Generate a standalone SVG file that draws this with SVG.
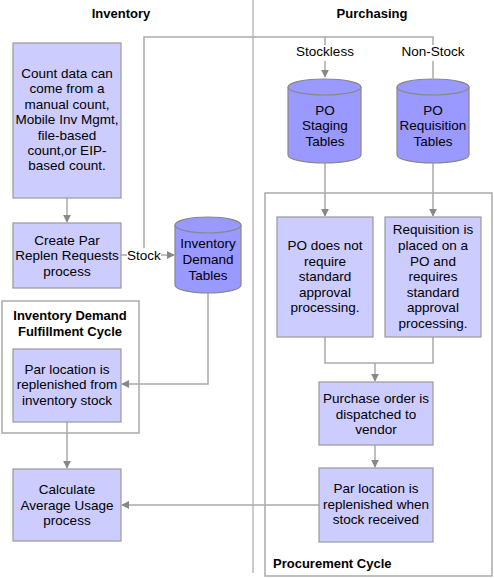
<svg xmlns="http://www.w3.org/2000/svg" width="494" height="578" viewBox="0 0 494 578">
<defs>
<style>
text{font-family:"Liberation Sans",Arial,sans-serif;font-size:13.5px;fill:#000;text-anchor:middle}
.t{font-weight:bold;font-size:13px}
.box{fill:#ccccff;stroke:#999;stroke-width:1.2}
.cyl{fill:#9999ff;stroke:#888;stroke-width:1.2}
.frame{fill:none;stroke:#aaa;stroke-width:1.5}
.c{fill:none;stroke:#aaa;stroke-width:1.5}
</style>
<marker id="a" viewBox="0 0 10 10" refX="9" refY="5" markerWidth="8" markerHeight="8" markerUnits="userSpaceOnUse" orient="auto">
<path d="M0,0 L10,5 L0,10 z" fill="#888"/>
</marker>
</defs>
<rect width="494" height="578" fill="#fff"/>
<g id="titles">
<text class="t" x="121" y="18">Inventory</text>
<text class="t" x="372" y="18">Purchasing</text>
</g>
<line x1="253" y1="0" x2="253" y2="573" stroke="#bbb" stroke-width="1.5"/>
<g id="frames">
<rect class="frame" x="2" y="301" width="137" height="132"/>
<text class="t" x="70" y="320">Inventory Demand</text>
<text class="t" x="70" y="336">Fulfillment Cycle</text>
<rect class="frame" x="265" y="193" width="227" height="383"/>
<text class="t" x="273" y="568" style="text-anchor:start">Procurement Cycle</text>
</g>
<g id="connectors">
<line class="c" x1="67" y1="198" x2="67" y2="222" marker-end="url(#a)"/>
<line class="c" x1="121" y1="255" x2="127" y2="255"/>
<text x="144" y="260">Stock</text>
<line class="c" x1="161" y1="255" x2="174" y2="255" marker-end="url(#a)"/>
<polyline class="c" points="144,248 144,37 433,37 433,45"/>
<line class="c" x1="325" y1="37" x2="325" y2="45"/>
<text x="325" y="56">Stockless</text>
<text x="433" y="56">Non-Stock</text>
<line class="c" x1="325" y1="61" x2="325" y2="77" marker-end="url(#a)"/>
<line class="c" x1="433" y1="61" x2="433" y2="78"/>
<line class="c" x1="325" y1="163" x2="325" y2="216" marker-end="url(#a)"/>
<line class="c" x1="433" y1="163" x2="433" y2="216" marker-end="url(#a)"/>
<polyline class="c" points="325,337 325,363 433,363 433,337"/>
<line class="c" x1="375" y1="363" x2="375" y2="381" marker-end="url(#a)"/>
<line class="c" x1="375" y1="445" x2="375" y2="467" marker-end="url(#a)"/>
<polyline class="c" points="208,293 208,384 122,384" marker-end="url(#a)"/>
<line class="c" x1="67" y1="422" x2="67" y2="468" marker-end="url(#a)"/>
<line class="c" x1="319" y1="505" x2="122" y2="505" marker-end="url(#a)"/>
</g>
<g id="count">
<rect class="box" x="13" y="43" width="108" height="155"/>
<text x="67" y="78">Count data can</text>
<text x="67" y="93">come from a</text>
<text x="67" y="109">manual count,</text>
<text x="67" y="124">Mobile Inv Mgmt,</text>
<text x="67" y="140">file-based</text>
<text x="67" y="155">count,or EIP-</text>
<text x="67" y="170">based count.</text>
</g>
<g id="createpar">
<rect class="box" x="13" y="223" width="108" height="65"/>
<text x="67" y="245">Create Par</text>
<text x="67" y="260">Replen Requests</text>
<text x="67" y="276">process</text>
</g>
<g id="invdemand">
<path class="cyl" d="M175,225 L175,285 A33,8 0 0 0 241,285 L241,225"/>
<ellipse class="cyl" cx="208" cy="225" rx="33" ry="8"/>
<text x="208" y="248">Inventory</text>
<text x="208" y="264">Demand</text>
<text x="208" y="280">Tables</text>
</g>
<g id="parinv">
<rect class="box" x="13" y="349" width="108" height="73"/>
<text x="67" y="374">Par location is</text>
<text x="67" y="389">replenished from</text>
<text x="67" y="405">inventory stock</text>
</g>
<g id="calc">
<rect class="box" x="13" y="469" width="108" height="72"/>
<text x="67" y="494">Calculate</text>
<text x="67" y="510">Average Usage</text>
<text x="67" y="525">process</text>
</g>
<g id="postaging">
<path class="cyl" d="M288,87 L288,155 A36.5,8 0 0 0 361,155 L361,87"/>
<ellipse class="cyl" cx="324.5" cy="87" rx="36.5" ry="8"/>
<text x="325" y="115">PO</text>
<text x="325" y="130">Staging</text>
<text x="325" y="146">Tables</text>
</g>
<g id="poreq">
<path class="cyl" d="M397,87 L397,155 A36,8 0 0 0 469,155 L469,87"/>
<ellipse class="cyl" cx="433" cy="87" rx="36" ry="8"/>
<text x="433" y="115">PO</text>
<text x="433" y="130">Requisition</text>
<text x="433" y="146">Tables</text>
</g>
<g id="ponoapproval">
<rect class="box" x="277" y="217" width="96" height="120"/>
<text x="325" y="250">PO does not</text>
<text x="325" y="266">require</text>
<text x="325" y="281">standard</text>
<text x="325" y="297">approval</text>
<text x="325" y="312">processing.</text>
</g>
<g id="reqplaced">
<rect class="box" x="385" y="217" width="96" height="120"/>
<text x="433" y="234">Requisition is</text>
<text x="433" y="250">placed on a</text>
<text x="433" y="266">PO and</text>
<text x="433" y="281">requires</text>
<text x="433" y="297">standard</text>
<text x="433" y="312">approval</text>
<text x="433" y="328">processing.</text>
</g>
<g id="dispatched">
<rect class="box" x="319" y="382" width="114" height="63"/>
<text x="376" y="403">Purchase order is</text>
<text x="376" y="419">dispatched to</text>
<text x="376" y="434">vendor</text>
</g>
<g id="parreceived">
<rect class="box" x="319" y="468" width="114" height="74"/>
<text x="376" y="493">Par location is</text>
<text x="376" y="509">replenished when</text>
<text x="376" y="524">stock received</text>
</g>
</svg>
